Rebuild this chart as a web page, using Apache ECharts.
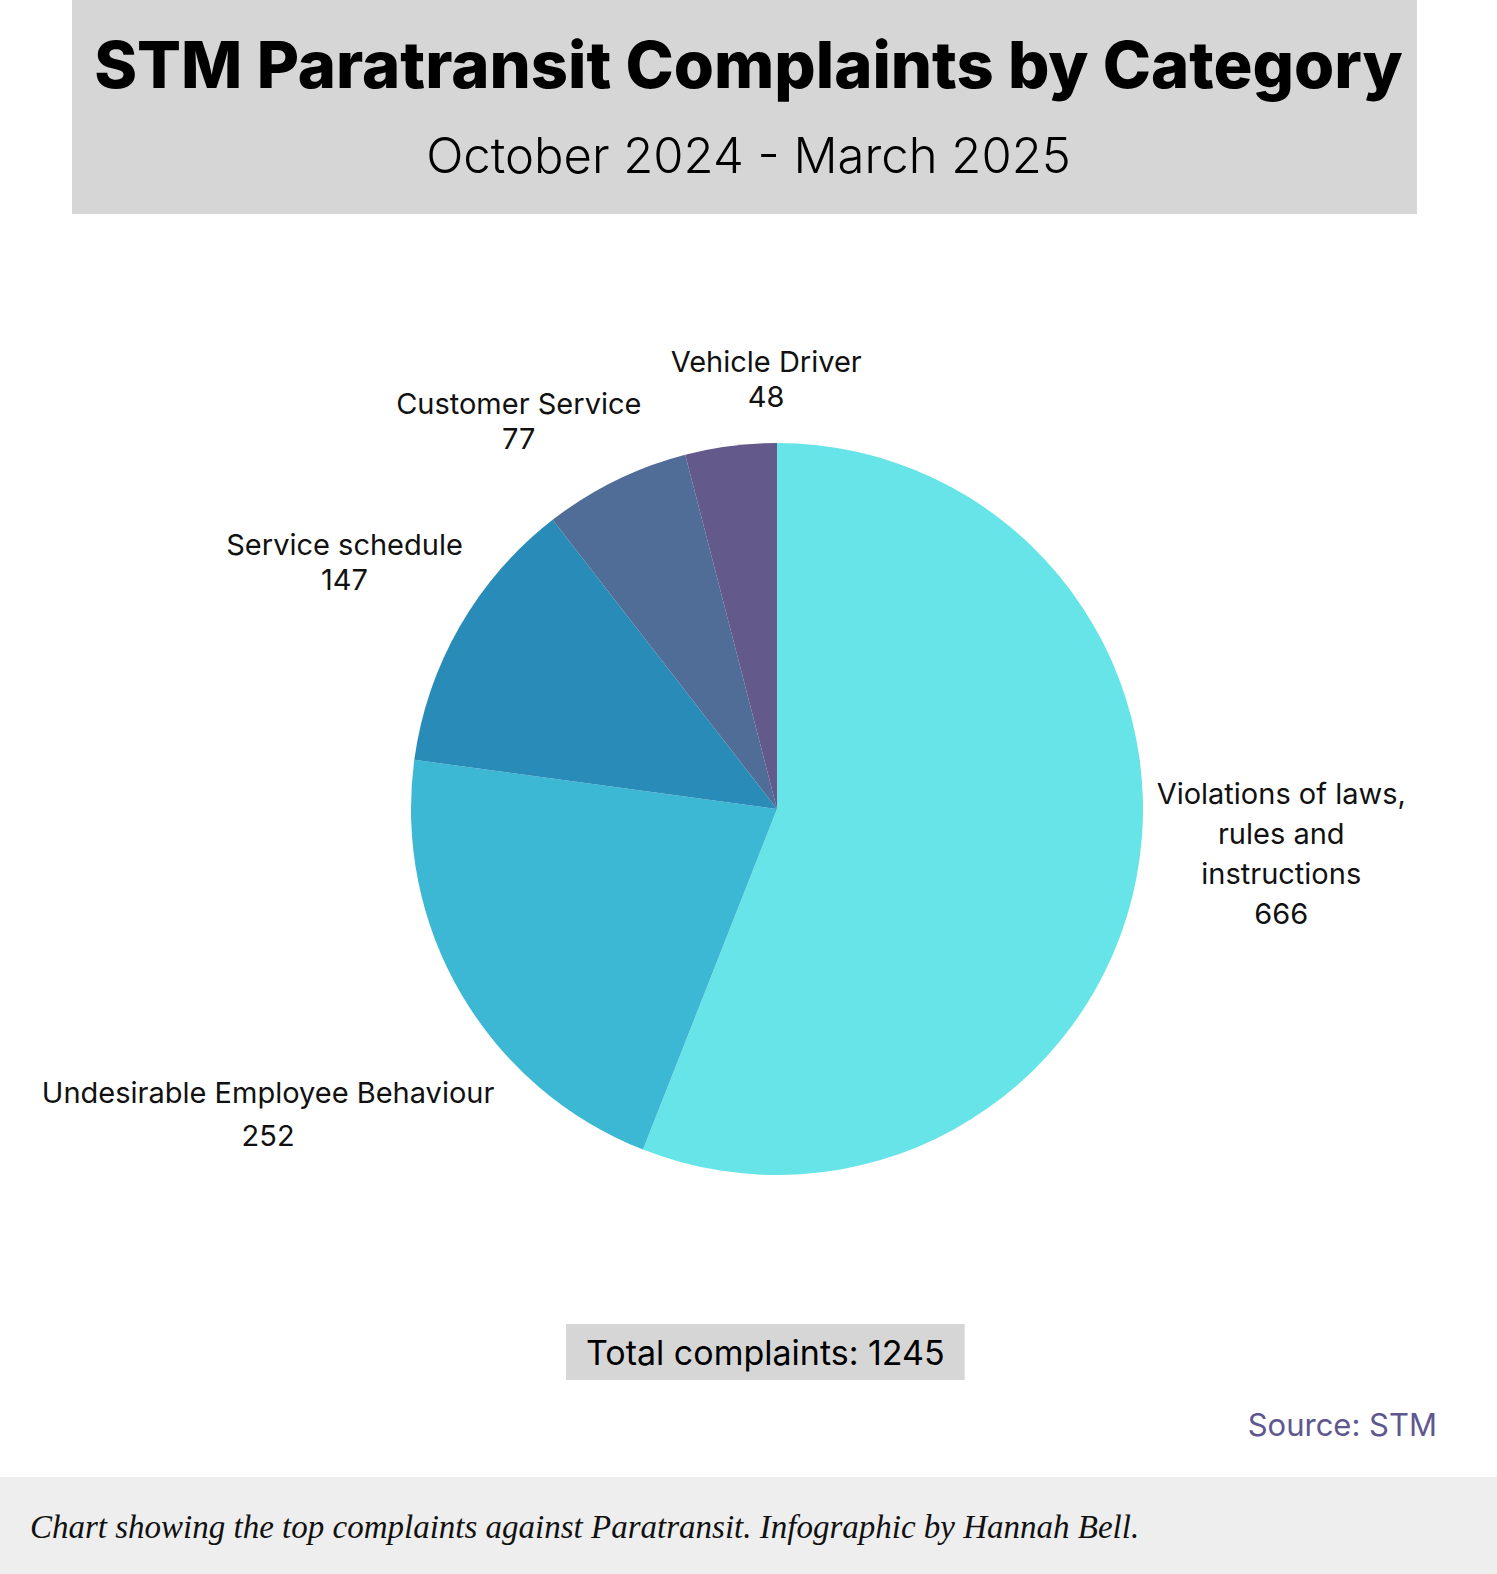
<!DOCTYPE html>
<html lang="en">
  <head>
    <meta charset="UTF-8" />
    <title>STM Paratransit Complaints by Category</title>
    <script src="https://cdn.jsdelivr.net/npm/echarts@6/dist/echarts.min.js"></script>
    <style>
      html, body { margin: 0; padding: 0; background: #fff; }
      #chart { width: 1497px; height: 1574px; }
    </style>
  </head>
  <body>
    <div id="chart"></div>
    <script>
      // complaint categories, in slice order (clockwise from 12 o'clock)
      var categories = [
        "Violations of laws,\nrules and\ninstructions",
        "Undesirable Employee Behaviour",
        "Service schedule",
        "Customer Service",
        "Vehicle Driver"
      ];
      var complaints = [666, 252, 147, 77, 48];
      var sliceColors = ["#67e4e8", "#3cb7d4", "#298bb8", "#4f6d96", "#64598b"];
      var totalComplaints = 1245;

      // per-label nudges and line spacing so labels sit where the original has them
      var labelNudge = [
        [120, -27],
        [-171, 110],
        [-93, -54],
        [-83, -42],
        [43, -47]
      ];
      var labelLineHeight = [40, 43, 35, 35, 35];

      var font = "Inter, 'Noto Sans', sans-serif";

      var pieData = categories.map(function (name, i) {
        return {
          name: name,
          value: complaints[i],
          itemStyle: { color: sliceColors[i] },
          label: { lineHeight: labelLineHeight[i] }
        };
      });

      var chart = echarts.init(document.getElementById("chart"), null, { renderer: "svg" });

      var option = {
        backgroundColor: "#ffffff",
        animation: false,
        graphic: [
          { type: "rect", shape: { x: 72, y: 0, width: 1345, height: 214 }, style: { fill: "#d6d6d6" }, z: -10 },
          { type: "rect", shape: { x: 0, y: 1477, width: 1497, height: 97 }, style: { fill: "#eeeeee" }, z: -10 }
        ],
        title: [
          {
            text: "STM Paratransit Complaints by Category",
            left: "center",
            top: 27,
            textStyle: { fontFamily: font, fontSize: 65, fontWeight: 800, color: "#000" }
          },
          {
            text: "October 2024 - March 2025",
            left: "center",
            top: 126,
            textStyle: { fontFamily: font, fontSize: 49, fontWeight: 300, color: "#000" }
          },
          {
            text: "Total complaints: " + totalComplaints,
            left: 566,
            top: 1324,
            backgroundColor: "#d6d6d6",
            padding: [11, 20],
            textStyle: { fontFamily: font, fontSize: 34, fontWeight: 400, color: "#000" }
          },
          {
            text: "Source: STM",
            right: 55,
            top: 1404,
            textStyle: { fontFamily: font, fontSize: 31, fontWeight: 400, color: "#5e5790" }
          },
          {
            text: "Chart showing the top complaints against Paratransit. Infographic by Hannah Bell.",
            left: 25,
            top: 1505,
            textStyle: {
              fontFamily: "'Liberation Serif', serif",
              fontSize: 33,
              fontStyle: "italic",
              fontWeight: 400,
              color: "#111"
            }
          }
        ],
        series: [
          {
            type: "pie",
            center: [777, 809],
            radius: 366,
            startAngle: 90,
            clockwise: true,
            avoidLabelOverlap: false,
            data: pieData,
            label: {
              show: true,
              position: "outside",
              formatter: "{b}\n{c}",
              fontFamily: font,
              fontSize: 29,
              color: "#111",
              align: "center"
            },
            labelLine: { show: false, length: 20, length2: 0 },
            labelLayout: function (params) {
              var n = labelNudge[params.dataIndex];
              return { dx: n[0], dy: n[1], align: "center" };
            },
            emphasis: { disabled: true }
          }
        ]
      };

      chart.setOption(option);
    </script>
  </body>
</html>
